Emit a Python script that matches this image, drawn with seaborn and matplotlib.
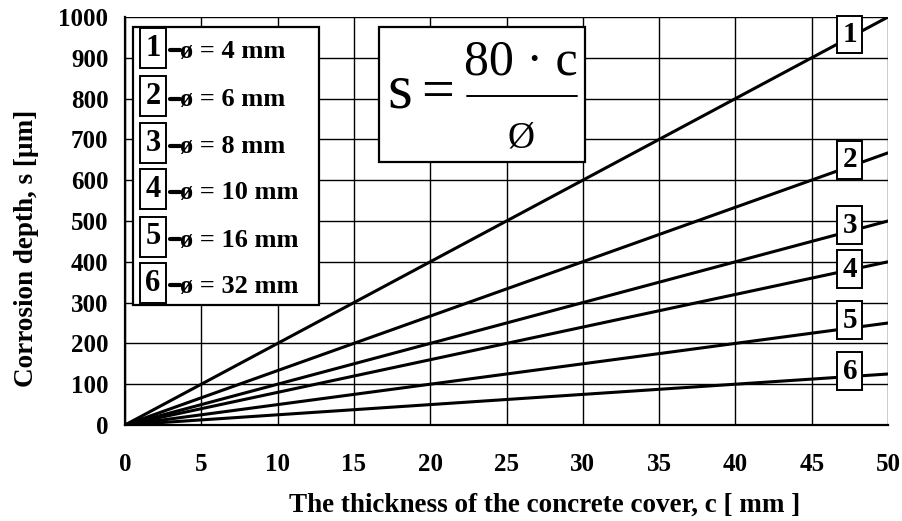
import matplotlib
matplotlib.use("Agg")
import matplotlib.pyplot as plt
import seaborn as sns
import pandas as pd
from matplotlib.patches import Rectangle
from matplotlib.lines import Line2D

# Bar diameters and corrosion depth reached at the largest cover
diameters_mm = [4, 6, 8, 10, 16, 32]
curve_ids = ["1", "2", "3", "4", "5", "6"]
cover_ends = [0, 50]
depth_at_50 = [1000, 667, 500, 400, 250, 125]
legend_texts = ["ø = 4 mm", "ø = 6 mm", "ø = 8 mm", "ø = 10 mm", "ø = 16 mm", "ø = 32 mm"]
x_ticks = list(range(0, 51, 5))
y_ticks = list(range(0, 1001, 100))

rows = []
for cid, d_end in zip(curve_ids, depth_at_50):
    rows.append({"c": cover_ends[0], "s": 0, "curve": cid})
    rows.append({"c": cover_ends[1], "s": d_end, "curve": cid})
df = pd.DataFrame(rows)

sns.set_theme(style="white")
plt.rcParams["font.family"] = ["Liberation Serif", "DejaVu Serif"]
plt.rcParams["text.color"] = "black"
plt.rcParams["axes.labelcolor"] = "black"
plt.rcParams["xtick.color"] = "black"
plt.rcParams["ytick.color"] = "black"

fig = plt.figure(figsize=(9.02, 5.21), dpi=100)
ax = fig.add_axes([125 / 902, 96 / 521, 763 / 902, 408 / 521])

sns.lineplot(data=df, x="c", y="s", units="curve", estimator=None,
             color="black", linewidth=2.2, ax=ax, zorder=3, legend=False)

ax.set_xlim(0, 50)
ax.set_ylim(0, 1000)
ax.set_xticks(x_ticks)
ax.set_yticks(y_ticks)
ax.grid(True, color="black", linewidth=1.0, zorder=0)
for side in ["top", "right"]:
    ax.spines[side].set_visible(False)
for side in ["left", "bottom"]:
    ax.spines[side].set_color("black")
    ax.spines[side].set_linewidth(1.6)
ax.tick_params(direction="inout", length=16, width=1.2, colors="black",
               labelsize=18, pad=4)
for lab in ax.get_xticklabels() + ax.get_yticklabels():
    lab.set_fontweight("bold")
ax.tick_params(axis="x", pad=12)

ax.set_xlabel("The thickness of the concrete cover, c [ mm ]", fontsize=19.5,
              fontweight="bold", labelpad=12)
ax.set_ylabel("Corrosion depth, s [µm]", fontsize=19.5, fontweight="bold", labelpad=14)
ax.xaxis.label.set_x(0.5505)
ax.yaxis.label.set_y(0.434)

# Legend panel
ax.add_patch(Rectangle((0.52, 294), 12.19, 681, facecolor="white",
                       edgecolor="black", linewidth=1.6, zorder=5))
legend_rows = [924, 806, 691, 578, 461, 348]
for cid, txt, yy in zip(curve_ids, legend_texts, legend_rows):
    ax.text(1.83, yy, cid, fontsize=22, fontweight="bold", ha="center", va="center",
            zorder=7, bbox=dict(boxstyle="square,pad=0.18", facecolor="white",
                                edgecolor="black", linewidth=1.4))
    ax.add_line(Line2D([2.95, 3.6], [yy - 6, yy - 6], color="black",
                       linewidth=3, zorder=6))
    ax.text(3.6, yy - 8, txt, fontsize=19, fontweight="bold", ha="left",
            va="center", zorder=7)

# Formula panel
ax.add_patch(Rectangle((16.65, 645), 13.49, 330, facecolor="white",
                       edgecolor="black", linewidth=1.6, zorder=5))
ax.text(17.2, 777, "s", fontsize=46, ha="left", va="baseline", zorder=7)
ax.text(19.4, 777, "=", fontsize=42, ha="left", va="baseline", zorder=7)
ax.text(25.95, 858, "80 · c", fontsize=36, ha="center", va="baseline", zorder=7)
ax.add_line(Line2D([22.4, 29.6], [806, 806], color="black", linewidth=1.4, zorder=7))
ax.text(25.95, 679, "Ø", fontsize=27, ha="center", va="baseline", zorder=7)

# Curve identifiers near the right edge
label_levels = [957, 650, 490, 382, 257, 132]
for cid, yy in zip(curve_ids, label_levels):
    ax.text(47.5, yy, cid, fontsize=21, fontweight="bold", ha="center", va="center",
            zorder=7, bbox=dict(boxstyle="square,pad=0.18", facecolor="white",
                                edgecolor="black", linewidth=1.4))

fig.savefig("out.png", dpi=100, facecolor="white")
